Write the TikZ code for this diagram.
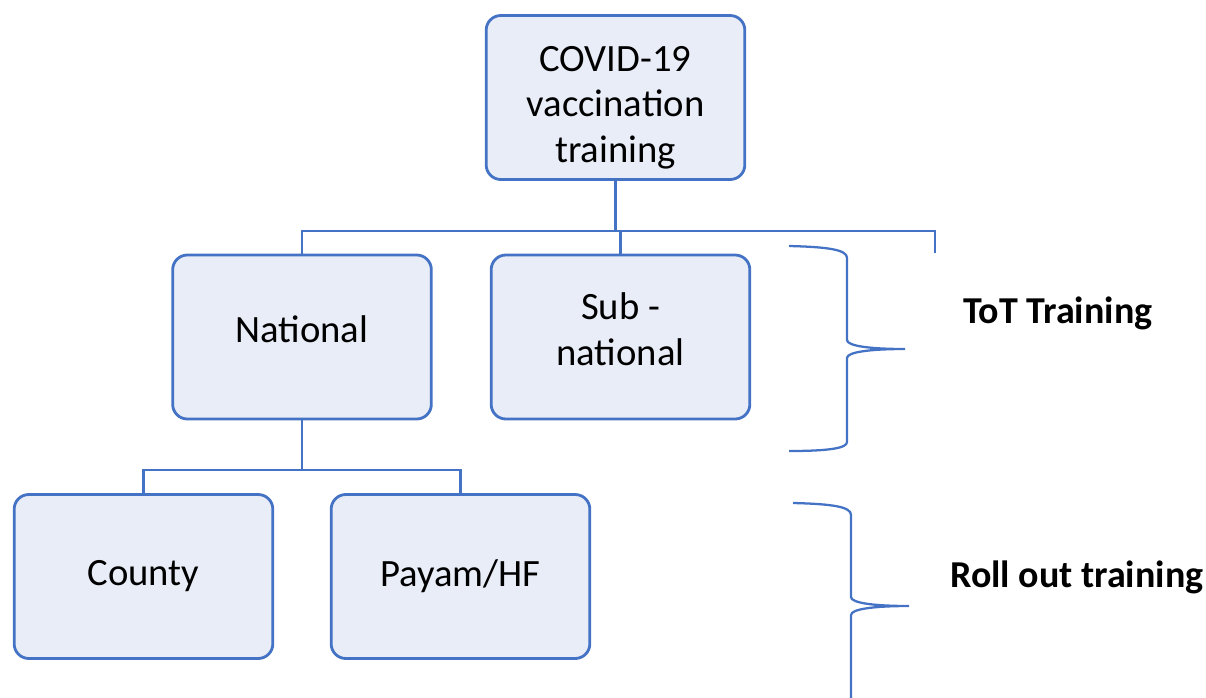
\documentclass[tikz,border=0pt]{standalone}
\usepackage{fontspec}
\setmainfont{Carlito}
\definecolor{BoxLineClr}{RGB}{68,114,196}
\definecolor{BoxFillClr}{RGB}{233,237,247}

\begin{document}
\begin{tikzpicture}[x=0.75pt,y=-0.75pt,
  box/.style={draw=BoxLineClr,fill=BoxFillClr,line width=2.1pt,rounded corners=11pt,
    minimum width=194pt,minimum height=123pt,align=center,inner sep=2pt,
    font=\fontsize{29}{34}\selectfont},
  link/.style={draw=BoxLineClr,line width=2.1pt},
  bracket/.style={draw=BoxLineClr,line width=1.7pt},
  tag/.style={anchor=west,inner sep=0pt,font=\fontsize{28.5}{34}\selectfont\bfseries}]
\useasboundingbox (0,0) rectangle (1206,697);

\node[box,text height=100pt,text depth=3.2pt] (top) at (615.5,97.5) {COVID-19\\vaccination\\training};
\node[box,text height=20pt,text depth=12.5pt] (nat) at (302,337) {National};
\node[box,text height=50pt,text depth=8pt] (sub) at (620.5,337) {Sub -\\national};
\node[box] (cty) at (143.5,576.5) {County};
\node[box] (pay) at (460.5,576.5) {Payam/HF};

\coordinate (busT) at (617,231);
\coordinate (stub) at (935,253);
\coordinate (busN) at (302,470);

\draw[link] (top.south) -- (top.south |- busT);
\draw[link] (nat.north) |- (stub |- busT) -- (stub);
\draw[link] (sub.north) -- (sub.north |- busT);
\draw[link] (nat.south) -- (nat.south |- busN);
\draw[link] (cty.north) |- (pay.north |- busN) -- (pay.north);

\draw[bracket] (789,246) .. controls (830,247) and (847,250) .. (847,258) -- (847,340)
  .. controls (847,346) and (870,349) .. (905,349)
  .. controls (870,349) and (847,352) .. (847,358) -- (847,442)
  .. controls (847,448) and (830,451) .. (789,451);
\draw[bracket] (793,503) .. controls (834,504) and (851,507) .. (851,515) -- (851,597)
  .. controls (851,603) and (874,606) .. (909,606)
  .. controls (874,606) and (851,609) .. (851,615) -- (851,700);

\node[tag] (tot) at (963,313) {ToT Training};
\node[tag] (roll) at (950,577) {Roll out training};

\end{tikzpicture}
\end{document}
